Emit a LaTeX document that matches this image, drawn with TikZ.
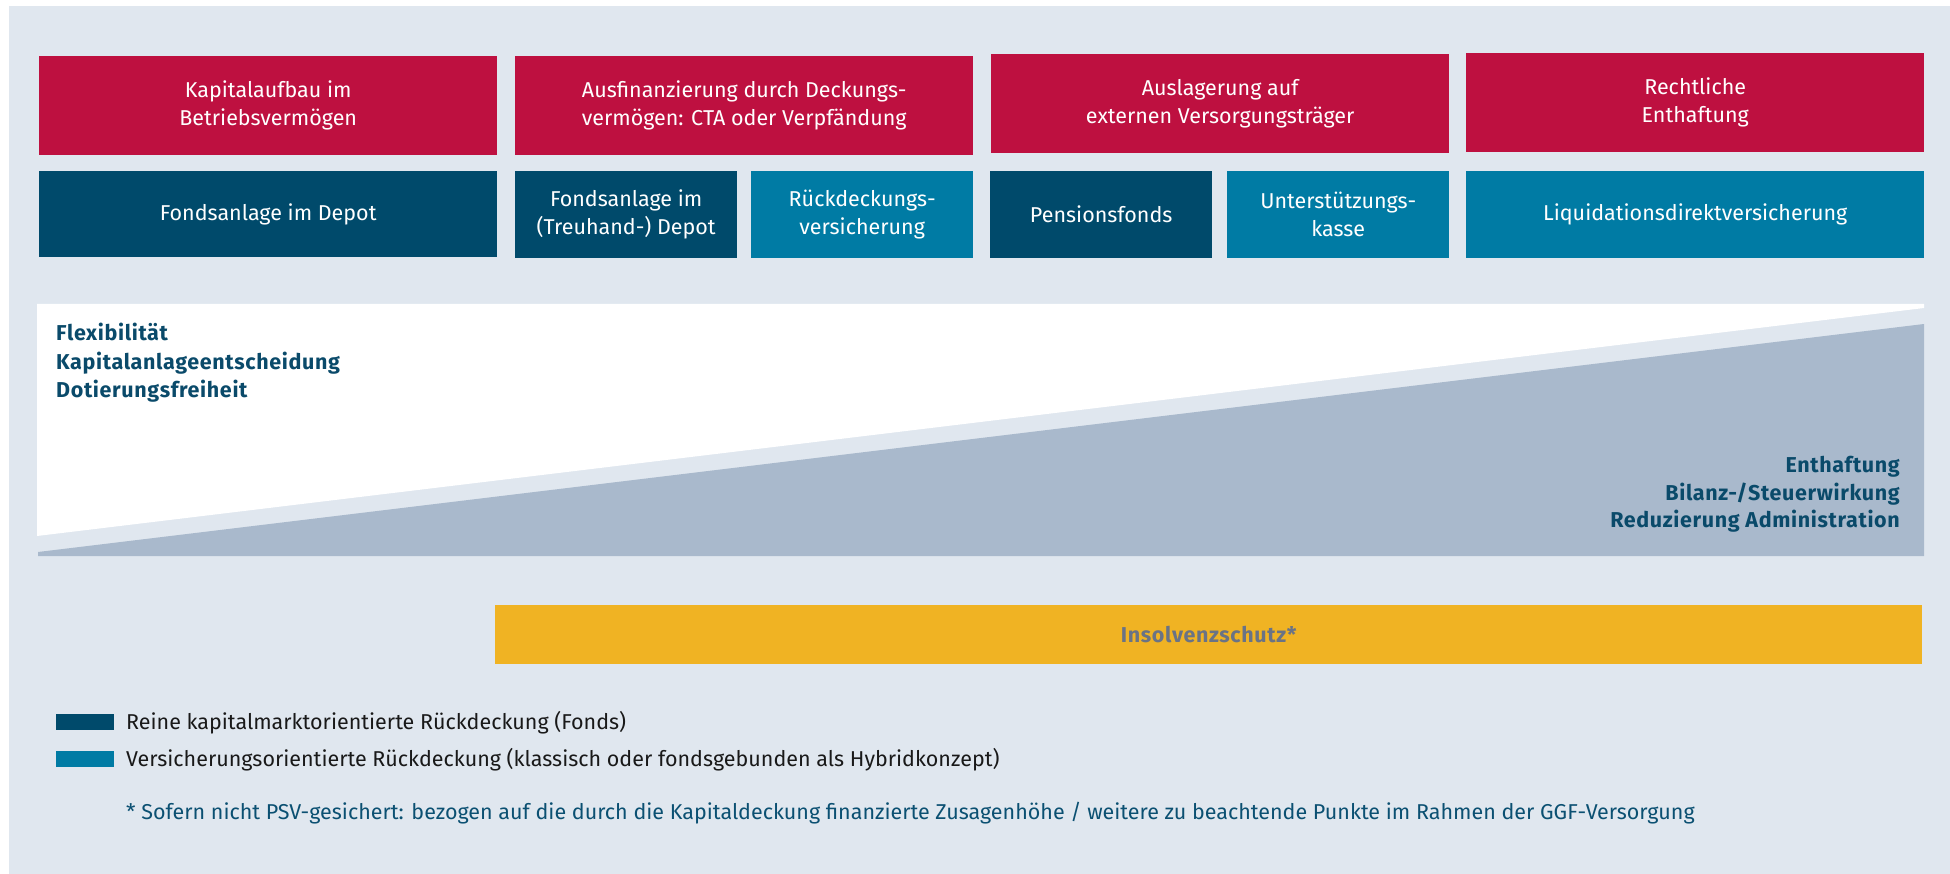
\documentclass[tikz,border=0pt]{standalone}
\usepackage{fontspec}
\setmainfont{Fira Sans}
\definecolor{bgc}{HTML}{E0E7EF}
\definecolor{redc}{HTML}{BE1040}
\definecolor{darkc}{HTML}{004A6B}
\definecolor{tealc}{HTML}{007BA4}
\definecolor{greyc}{HTML}{A9B9CC}
\definecolor{yelc}{HTML}{F0B323}
\definecolor{headc}{HTML}{0A4A6A}
\definecolor{insc}{HTML}{6A7385}
\definecolor{notec}{HTML}{0B5072}
\newcommand{\regfont}{\fontsize{21.5}{28}\selectfont}
\newcommand{\boldtxt}{\fontsize{21.5}{28}\selectfont\bfseries\addfontfeatures{LetterSpace=3}}
\tikzset{
  boxbase/.style={anchor=north west, inner sep=0pt, align=center, text=white,
    font=\regfont},
  redbox/.style={boxbase, fill=redc},
  darkbox/.style={boxbase, fill=darkc},
  tealbox/.style={boxbase, fill=tealc},
  headtxt/.style={inner sep=0pt, text=headc, font=\boldtxt},
  legtxt/.style={inner sep=0pt, anchor=base west, text=black!90, font=\regfont},
}
\begin{document}
\begin{tikzpicture}[x=1pt,y=-1pt]
\useasboundingbox (0,0) rectangle (1950,874);
\fill[bgc] (9,6) rectangle (1950,874);
% top row
\node[redbox, minimum width=458pt, minimum height=99pt] (r1) at (39,56) {Kapitalaufbau im\\Betriebsvermögen};
\node[redbox, minimum width=458pt, minimum height=99pt] (r2) at (515,56) {Ausfinanzierung durch Deckungs-\\vermögen: CTA oder Verpfändung};
\node[redbox, minimum width=458pt, minimum height=99pt] (r3) at (991,54) {Auslagerung auf\\externen Versorgungsträger};
\node[redbox, minimum width=458pt, minimum height=99pt] (r4) at (1466,53) {Rechtliche\\Enthaftung};
% second row
\node[darkbox, minimum width=458pt, minimum height=86pt] (d1) at (39,171) {Fondsanlage im Depot};
\node[darkbox, minimum width=222pt, minimum height=87pt] (d2) at (515,171) {Fondsanlage im\\(Treuhand-) Depot};
\node[tealbox, minimum width=222pt, minimum height=87pt] (t1) at (751,171) {Rückdeckungs-\\versicherung};
\node[darkbox, minimum width=222pt, minimum height=87pt] (d3) at (990,171) {Pensionsfonds};
\node[tealbox, minimum width=222pt, minimum height=87pt] (t2) at (1227,171) {Unterstützungs-\\kasse};
\node[tealbox, minimum width=458pt, minimum height=87pt] (t3) at (1466,171) {Liquidationsdirektversicherung};
% wedge
\fill[white] (37,304) -- (1924,304) -- (1924,308) -- (37,536) -- cycle;
\fill[greyc] (38,552) -- (1924,324) -- (1924,556) -- (38,556) -- cycle;
\node[headtxt, anchor=base west] (f1) at (56,341) {Flexibilität};
\node[headtxt, anchor=base west] (f2) at (56,369) {Kapitalanlageentscheidung};
\node[headtxt, anchor=base west] (f3) at (56,397) {Dotierungsfreiheit};
\node[headtxt, anchor=base east] (e1) at (1900,472) {Enthaftung};
\node[headtxt, anchor=base east] (e2) at (1900,500) {Bilanz-/Steuerwirkung};
\node[headtxt, anchor=base east] (e3) at (1900,527) {Reduzierung Administration};
% insolvency bar
\node[anchor=north west, inner sep=0pt, fill=yelc, minimum width=1427pt, minimum height=59pt,
  text=insc, font=\boldtxt] (ins) at (495,605) {Insolvenzschutz*};
% legend
\fill[darkc] (56,714) rectangle (114,730);
\fill[tealc] (56,751) rectangle (114,767);
\node[legtxt] (l1) at (126,729) {Reine kapitalmarktorientierte Rückdeckung (Fonds)};
\node[legtxt] (l2) at (126,766) {Versicherungsorientierte Rückdeckung (klassisch oder fondsgebunden als Hybridkonzept)};
\node[legtxt, text=notec] (note) at (126,819) {* Sofern nicht PSV-gesichert: bezogen auf die durch die Kapitaldeckung finanzierte Zusagenhöhe / weitere zu beachtende Punkte im Rahmen der GGF-Versorgung};
\end{tikzpicture}
\end{document}
